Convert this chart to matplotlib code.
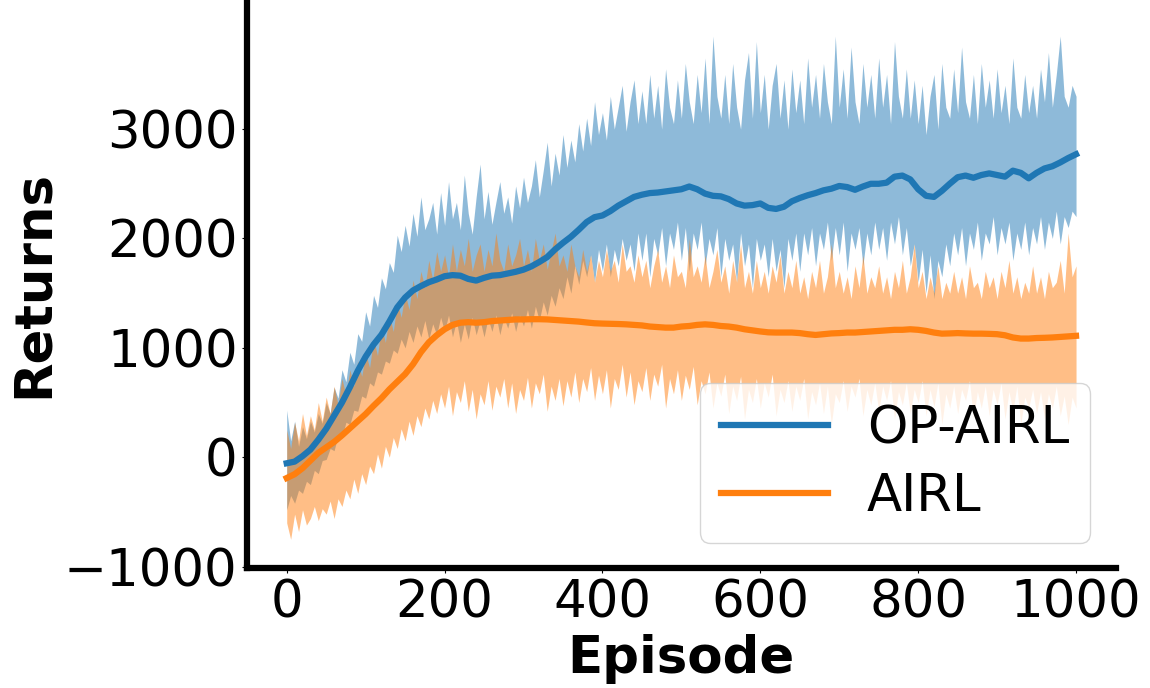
import matplotlib
matplotlib.use('Agg')
import matplotlib.pyplot as plt
import numpy as np

# Data: mean returns every 10 episodes
mean_episodes = list(range(0, 1001, 10))
op_airl_mean = [
    -55, -40, 10, 70, 160, 260, 380, 500, 640, 790,
    920, 1030, 1120, 1240, 1370, 1460, 1525, 1565, 1600, 1625,
    1655, 1665, 1660, 1630, 1615, 1640, 1660, 1665, 1680, 1695,
    1715, 1745, 1785, 1830, 1900, 1960, 2015, 2080, 2150, 2195,
    2210, 2250, 2300, 2340, 2380, 2400, 2415, 2420, 2430, 2440,
    2450, 2475, 2450, 2410, 2390, 2385, 2360, 2320, 2300, 2305,
    2320, 2280, 2270, 2290, 2340, 2370, 2395, 2415, 2440, 2455,
    2480, 2470, 2445, 2475, 2500, 2500, 2510, 2565, 2575, 2540,
    2450, 2390, 2380, 2435, 2500, 2560, 2575, 2555, 2580, 2595,
    2580, 2565, 2620, 2600, 2550, 2600, 2640, 2660, 2695, 2735,
    2770]
airl_mean = [
    -190, -155, -100, -30, 40, 90, 140, 200, 265, 330,
    395, 470, 540, 620, 690, 760, 850, 960, 1050, 1115,
    1170, 1210, 1230, 1235, 1230, 1235, 1245, 1250, 1255, 1260,
    1260, 1262, 1262, 1260, 1255, 1250, 1245, 1240, 1232, 1225,
    1222, 1220, 1218, 1215, 1210, 1205, 1195, 1190, 1185, 1185,
    1195, 1200, 1210, 1215, 1210, 1200, 1195, 1185, 1170, 1160,
    1150, 1142, 1140, 1140, 1140, 1135, 1125, 1118, 1125, 1132,
    1135, 1140, 1140, 1145, 1150, 1155, 1160, 1165, 1165, 1170,
    1165, 1155, 1140, 1130, 1132, 1135, 1132, 1130, 1130, 1128,
    1125, 1115, 1095, 1085, 1085, 1090, 1092, 1095, 1100, 1105,
    1110]

# Data: shaded band edges every 5 episodes
band_episodes = list(range(0, 1001, 5))
op_airl_upper = [
    430, 150, 330, 100, 280, 170, 330, 230, 400, 310,
    500, 400, 640, 540, 800, 690, 960, 850, 1130, 1060,
    1330, 1200, 1480, 1370, 1640, 1540, 1780, 1690, 2030, 1880,
    2120, 1930, 2230, 2020, 2380, 2080, 2180, 2330, 2040, 2420,
    2120, 2520, 2180, 2330, 2080, 2580, 2230, 2040, 2380, 2680,
    2180, 2430, 2130, 2330, 2520, 2230, 2380, 2140, 2480, 2280,
    2560, 2330, 2480, 2720, 2380, 2620, 2880, 2480, 2780, 2580,
    2950, 2650, 2900, 2700, 3050, 2800, 3100, 2850, 3250, 2950,
    3150, 2900, 3300, 3000, 3200, 3400, 2980, 3250, 3450, 3050,
    3350, 3050, 3500, 3100, 3400, 3000, 3550, 3200, 3050, 3450,
    3100, 3600, 3250, 3050, 3500, 3150, 3650, 3050, 3850, 3300,
    3100, 3500, 3050, 3600, 3200, 3000, 3450, 3700, 3100, 3800,
    3150, 3500, 3000, 3400, 3600, 3100, 3450, 3000, 3550, 3150,
    3450, 3050, 3650, 3200, 3500, 3100, 3600, 3250, 3050, 3850,
    3200, 3550, 3100, 3750, 3250, 3050, 3600, 3200, 3500, 3100,
    3650, 3200, 3500, 3050, 3800, 3300, 3100, 3550, 3100, 3450,
    3050, 3400, 2950, 3300, 3500, 3000, 3600, 3200, 3100, 3550,
    3150, 3750, 3250, 3100, 3500, 3050, 3600, 3200, 3450, 3100,
    3550, 3150, 3400, 3050, 3650, 3200, 3100, 3500, 3150, 3400,
    3100, 3550, 3250, 3700, 3200, 3500, 3850, 3300, 3200, 3400,
    3300]
op_airl_lower = [
    -480, -350, -420, -300, -330, -220, -250, -120, -150, -30,
    -20, 80, 60, 200, 180, 320, 300, 430, 420, 560,
    540, 680, 650, 780, 760, 880, 860, 980, 950, 1080,
    1000, 1150, 1050, 1200, 1100, 1250, 1080, 1220, 1120, 1280,
    1150, 1300, 1100, 1250, 1050, 1220, 1080, 1280, 1120, 1250,
    1100, 1270, 1150, 1300, 1120, 1280, 1180, 1320, 1150, 1300,
    1200, 1350, 1180, 1380, 1250, 1420, 1300, 1480, 1380, 1550,
    1450, 1650, 1500, 1750, 1580, 1800, 1650, 1850, 1600, 1900,
    1700, 1950, 1650, 1900, 1750, 2000, 1800, 1950, 1700, 2050,
    1800, 2050, 1650, 2000, 1850, 2100, 1750, 2050, 1900, 2150,
    1800, 2100, 1700, 2050, 1900, 2150, 1750, 2000, 1850, 2100,
    1650, 2000, 1800, 1950, 1600, 2050, 1750, 1950, 1550, 2000,
    1800, 1950, 1650, 2000, 1700, 1900, 1550, 2000, 1800, 2050,
    1700, 2050, 1850, 2100, 1750, 2050, 1900, 2150, 1800, 2100,
    1850, 2150, 1700, 2050, 1900, 2100, 1750, 2050, 1850, 2150,
    1900, 2100, 1800, 2150, 1950, 2200, 1850, 2100, 1750, 1950,
    1600, 1900, 1500, 1850, 1450, 1800, 1650, 1950, 1750, 2050,
    1850, 2100, 1750, 2050, 1900, 2150, 1800, 2050, 1950, 2200,
    1850, 2100, 1950, 2150, 1800, 2050, 1900, 2150, 1850, 2100,
    1950, 2200, 1900, 2150, 2000, 2250, 1950, 2200, 2100, 2250,
    2200]
airl_upper = [
    250, 80, 320, 150, 400, 200, 380, 250, 500, 330,
    550, 400, 650, 480, 720, 560, 800, 650, 880, 740,
    950, 820, 1080, 930, 1200, 1050, 1300, 1150, 1420, 1280,
    1500, 1350, 1620, 1450, 1700, 1550, 1800, 1620, 1880, 1700,
    1850, 1650, 1950, 1700, 1900, 1750, 2000, 1700, 1850, 1950,
    1700, 1900, 1750, 2050, 1800, 1700, 1950, 1750, 1850, 2000,
    1750, 1900, 1700, 2000, 1800, 1950, 1720, 1880, 2050, 1750,
    1850, 1700, 1950, 1750, 1650, 1900, 1700, 1850, 1600, 1800,
    1650, 1900, 1700, 1800, 1600, 1950, 1700, 1750, 1600, 1850,
    1650, 1800, 1550, 1750, 1900, 1600, 1750, 1550, 1850, 1650,
    1700, 1550, 2000, 1650, 1750, 1600, 1850, 1550, 1700, 1900,
    1600, 1750, 1500, 1800, 1600, 1950, 1550, 1700, 1500, 1800,
    1550, 1700, 1500, 1750, 1600, 1850, 1500, 1700, 1550, 1800,
    1500, 1650, 1450, 1700, 1550, 1800, 1500, 1650, 1950, 1550,
    1700, 1500, 1650, 1450, 1750, 1550, 1850, 1500, 1650, 1550,
    1750, 1500, 1650, 1450, 1700, 1550, 1800, 1500, 1650, 1950,
    1550, 1700, 1450, 1650, 1500, 1750, 1450, 1600, 1500, 1700,
    1500, 1650, 1450, 1750, 1550, 1600, 1450, 1700, 1550, 1650,
    1450, 1700, 1550, 1800, 1500, 1650, 1450, 1600, 1500, 1750,
    1500, 1650, 1450, 1700, 1550, 1600, 1800, 1500, 2050, 1650,
    1750]
airl_lower = [
    -600, -750, -520, -680, -480, -620, -560, -450, -580, -470,
    -520, -400, -560, -380, -450, -300, -380, -200, -330, -150,
    -250, -80, -150, 30, -100, 100, 0, 180, 80, 260,
    150, 330, 200, 380, 280, 450, 350, 520, 400, 580,
    450, 650, 380, 600, 500, 700, 420, 620, 350, 580,
    480, 700, 430, 650, 550, 720, 450, 680, 400, 620,
    520, 730, 450, 680, 580, 760, 420, 650, 520, 720,
    470, 700, 550, 780, 500, 720, 600, 820, 520, 750,
    580, 800, 450, 720, 620, 850, 550, 780, 480, 700,
    600, 820, 520, 760, 650, 850, 450, 720, 580, 800,
    520, 750, 620, 830, 480, 700, 580, 780, 450, 680,
    560, 760, 400, 650, 520, 740, 350, 620, 500, 720,
    450, 680, 550, 760, 380, 620, 500, 700, 420, 650,
    520, 720, 350, 600, 480, 680, 400, 650, 300, 580,
    500, 700, 420, 650, 550, 720, 380, 620, 480, 680,
    420, 650, 520, 700, 350, 600, 480, 680, 400, 620,
    500, 700, 380, 620, 460, 680, 300, 580, 450, 650,
    400, 620, 520, 700, 350, 600, 450, 650, 380, 620,
    480, 680, 350, 600, 420, 650, 300, 550, 450, 620,
    400, 600, 350, 580, 450, 650, 380, 560, 300, 550,
    450]

fig = plt.figure(figsize=(11.5, 6.88), dpi=100)
ax = fig.add_axes([0.215, 0.174, 0.755, 0.826])

# shaded bands first, orange over blue
ax.fill_between(band_episodes, op_airl_lower, op_airl_upper, color='tab:blue', alpha=0.5, linewidth=0)
ax.fill_between(band_episodes, airl_lower, airl_upper, color='tab:orange', alpha=0.5, linewidth=0)

# mean lines
ax.plot(mean_episodes, op_airl_mean, color='tab:blue', linewidth=4.5, label='OP-AIRL')
ax.plot(mean_episodes, airl_mean, color='tab:orange', linewidth=4.5, label='AIRL')

ax.set_xlim(-50, 1050)
ax.set_ylim(-1015, 4180)
ax.set_xticks([0, 200, 400, 600, 800, 1000])
ax.set_yticks([-1000, 0, 1000, 2000, 3000])
ax.tick_params(labelsize=37)

ax.spines['top'].set_visible(False)
ax.spines['right'].set_visible(False)
ax.spines['left'].set_linewidth(4.5)
ax.spines['bottom'].set_linewidth(4.5)

ax.set_xlabel('Episode', fontsize=37, fontweight='bold')
ax.set_ylabel('Returns', fontsize=37, fontweight='bold')

ax.legend(loc='lower right', fontsize=37, handlelength=2.1, handletextpad=0.75, labelspacing=0.35)

fig.savefig('out.png', dpi=100)
